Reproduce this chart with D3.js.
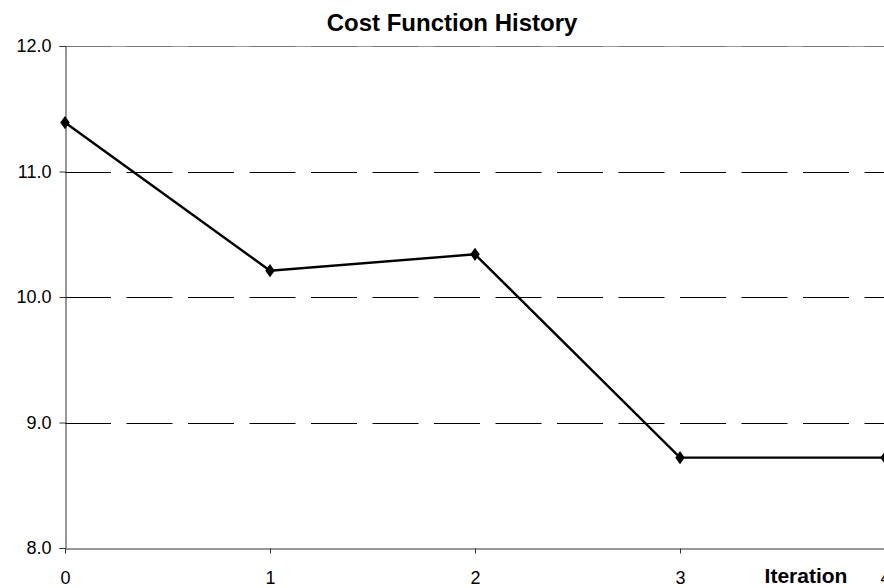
<!DOCTYPE html>
<html><head><meta charset="utf-8">
<script src="https://cdn.jsdelivr.net/npm/d3@7"></script>
<style>body{margin:0;background:#fff}svg{display:block}</style>
</head><body>
<script>
const iterations = [0, 1, 2, 3, 4];
const costValues = [11.39, 10.21, 10.34, 8.72, 8.72];
const yTicks = [8, 9, 10, 11, 12];
const xTicks = [0, 1, 2, 3, 4];

const W = 884, H = 588;
const svg = d3.select("body").append("svg").attr("width", W).attr("height", H);
const x = d3.scaleLinear().domain([0, 4]).range([65, 885]);
const y = d3.scaleLinear().domain([8, 12]).range([548, 46]);
const font = "Arial, 'Liberation Sans', sans-serif";

// gridlines
svg.append("line").attr("x1", 65).attr("x2", W).attr("y1", y(12) + 0.5).attr("y2", y(12) + 0.5)
  .attr("stroke", "#999").attr("stroke-width", 1);
svg.append("line").attr("x1", 65).attr("x2", W).attr("y1", y(12) + 0.5).attr("y2", y(12) + 0.5)
  .attr("stroke", "#777").attr("stroke-width", 1).attr("stroke-dasharray", "46,15.5");
svg.selectAll("line.grid").data(yTicks.filter(d => d > 8 && d < 12)).enter().append("line")
  .attr("class", "grid").attr("x1", 65).attr("x2", W)
  .attr("y1", d => Math.round(y(d)) + 0.5).attr("y2", d => Math.round(y(d)) + 0.5)
  .attr("stroke", "#000").attr("stroke-width", 1).attr("stroke-dasharray", "46,15.5");

// axes
const yAxis = d3.axisLeft(y).tickValues(yTicks).tickFormat(d3.format(".1f")).tickSize(6).tickPadding(8);
const gy = svg.append("g").attr("transform", "translate(65.5,0)").call(yAxis);
gy.select(".domain").attr("stroke", "#333");
gy.selectAll(".tick line").attr("stroke", "#333");
gy.selectAll("text").attr("font-family", font).attr("font-size", 18).attr("fill", "#000");

const xAxis = d3.axisBottom(x).tickValues(xTicks).tickFormat(d3.format("d")).tickSize(5).tickPadding(18);
const gx = svg.append("g").attr("transform", "translate(0,548.5)").call(xAxis);
gx.select(".domain").attr("stroke", "#333");
gx.selectAll(".tick line").attr("stroke", "#333");
gx.selectAll("text").attr("font-family", font).attr("font-size", 18).attr("fill", "#000");

// line
const pts = iterations.map((d, i) => [d, costValues[i]]);
svg.append("path").datum(pts)
  .attr("d", d3.line().x(d => x(d[0])).y(d => y(d[1])))
  .attr("fill", "none").attr("stroke", "#000").attr("stroke-width", 2.4);
svg.selectAll("path.mk").data(pts).enter().append("path").attr("class", "mk")
  .attr("d", d3.symbol().type(d3.symbolDiamond).size(50))
  .attr("transform", d => `translate(${x(d[0])},${y(d[1])}) scale(1.25,1)`)
  .attr("fill", "#000");

// title & axis label
svg.append("text").attr("x", 452).attr("y", 31).attr("text-anchor", "middle")
  .attr("font-family", font).attr("font-weight", "bold").attr("font-size", 24).text("Cost Function History");
svg.append("text").attr("x", 806).attr("y", 583).attr("text-anchor", "middle")
  .attr("font-family", font).attr("font-weight", "bold").attr("font-size", 21).text("Iteration");
</script>
</body></html>
